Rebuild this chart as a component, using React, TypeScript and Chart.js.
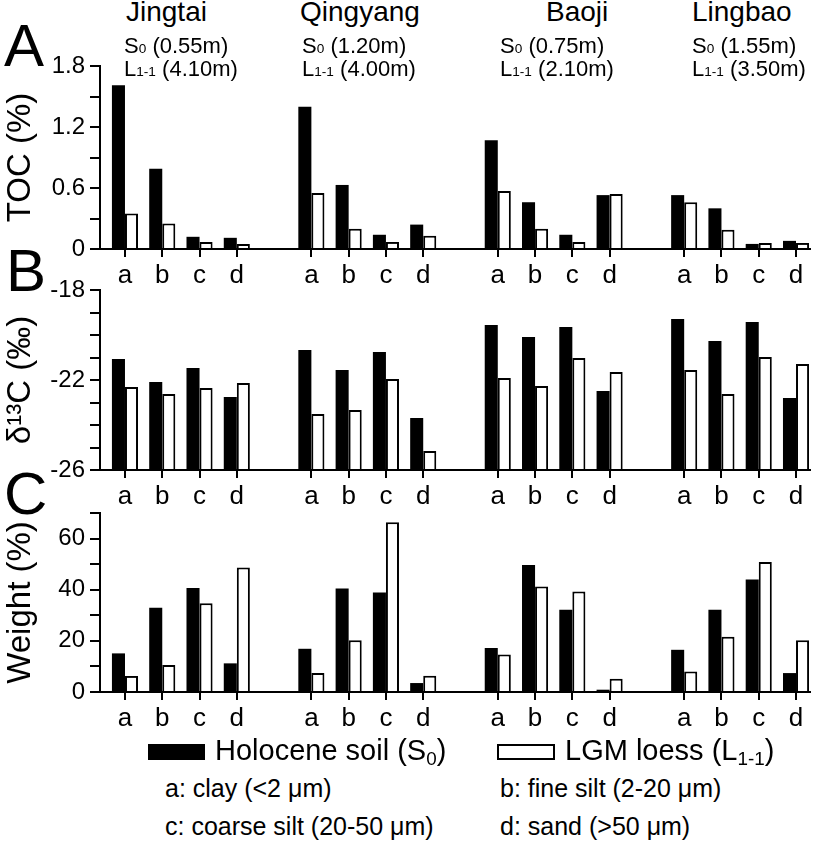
import React, { useEffect, useRef } from 'react';
import { Chart, registerables } from 'chart.js';

Chart.register(...registerables);

// ---------------- data ----------------
const SITES = ['Jingtai', 'Qingyang', 'Baoji', 'Lingbao'];
const S0_DEPTH = ['0.55m', '1.20m', '0.75m', '1.55m'];
const L11_DEPTH = ['4.10m', '4.00m', '2.10m', '3.50m'];
const FRACTIONS = ['a', 'b', 'c', 'd'];

// order: Jingtai a-d, Qingyang a-d, Baoji a-d, Lingbao a-d
const TOC_HOLOCENE = [1.61, 0.79, 0.12, 0.11, 1.4, 0.63, 0.14, 0.24, 1.07, 0.46, 0.14, 0.53, 0.53, 0.4, 0.05, 0.08];
const TOC_LGM = [0.35, 0.25, 0.07, 0.05, 0.55, 0.2, 0.07, 0.13, 0.57, 0.2, 0.07, 0.54, 0.46, 0.19, 0.06, 0.06];

const D13C_HOLOCENE = [-21.07, -22.09, -21.47, -22.76, -20.67, -21.56, -20.76, -23.69, -19.56, -20.09, -19.64, -22.49, -19.29, -20.27, -19.42, -22.8];
const D13C_LGM = [-22.31, -22.62, -22.36, -22.13, -23.51, -23.33, -21.96, -25.16, -21.91, -22.27, -21.02, -21.64, -21.56, -22.62, -20.98, -21.29];

const WEIGHT_HOLOCENE = [15.1, 32.9, 40.7, 11.2, 16.9, 40.5, 38.9, 3.5, 17.2, 49.7, 32.2, 0.9, 16.5, 32.2, 44.0, 7.4];
const WEIGHT_LGM = [6.3, 10.6, 34.7, 48.7, 7.4, 20.2, 66.4, 6.4, 14.7, 41.3, 39.3, 5.2, 8.0, 21.6, 50.8, 20.2];

const TOC_TICKS = [0, 0.3, 0.6, 0.9, 1.2, 1.5, 1.8];
const TOC_TICK_LABELS = ['0', '', '0.6', '', '1.2', '', '1.8'];
const D13C_TICKS = [-26, -25, -24, -23, -22, -21, -20, -19, -18];
const D13C_TICK_LABELS = ['-26', '', '', '', '-22', '', '', '', '-18'];
const WEIGHT_TICKS = [0, 10, 20, 30, 40, 50, 60, 70];
const WEIGHT_TICK_LABELS = ['0', '', '20', '', '40', '', '60', ''];

// ---------------- layout ----------------
const W = 814;
const FONT = '"Liberation Sans", Arial, Helvetica, sans-serif';
const SLOT_OF = (i: number) => Math.floor(i / 4) * 5 + (i % 4); // one empty slot between sites
const X_MIN = -0.67;
const X_MAX = 18.375;

type PanelProps = {
  top: number;
  height: number;
  holo: number[];
  lgm: number[];
  ticks: number[];
  tickLabels: string[];
  title: string;
  base?: number;
};

function Panel({ top, height, holo, lgm, ticks, tickLabels, title, base }: PanelProps) {
  const ref = useRef<HTMLCanvasElement | null>(null);
  useEffect(() => {
    if (!ref.current) return;
    const slots = holo.map((_, i) => SLOT_OF(i));
    const mk = (vals: number[]) => vals.map((v, i) => ({ x: slots[i], y: v }));
    const ds: any = (label: string, vals: number[], fill: string, bw: number) => ({
      label,
      data: mk(vals),
      backgroundColor: fill,
      borderColor: '#000',
      borderWidth: bw,
      categoryPercentage: 0.7,
      barPercentage: 1.0,
      ...(base !== undefined ? { base } : {}),
    });
    const chart = new Chart(ref.current, {
      type: 'bar',
      data: {
        datasets: [ds('Holocene soil (S0)', holo, '#000', 0), ds('LGM loess (L1-1)', lgm, '#fff', 2)],
      },
      options: {
        animation: false,
        responsive: false,
        maintainAspectRatio: false,
        layout: { padding: { top: 20, right: 4, left: 0, bottom: 0 } },
        plugins: { legend: { display: false }, tooltip: { enabled: false } },
        scales: {
          x: {
            type: 'linear',
            min: X_MIN,
            max: X_MAX,
            offset: false,
            z: 1,
            afterBuildTicks: (s: any) => {
              s.ticks = slots.map((v) => ({ value: v }));
            },
            afterFit: (s: any) => {
              s.height = 45;
            },
            grid: {
              offset: false,
              drawOnChartArea: false,
              drawTicks: true,
              tickLength: 8,
              color: '#000',
              lineWidth: 2,
            },
            border: { display: true, color: '#000', width: 2 },
            ticks: {
              autoSkip: false,
              maxRotation: 0,
              padding: 3,
              color: '#000',
              font: { family: FONT, size: 26 },
              callback: (_v: any, i: number) => FRACTIONS[i % 4],
            },
          },
          y: {
            type: 'linear',
            min: ticks[0],
            max: ticks[ticks.length - 1],
            afterBuildTicks: (s: any) => {
              s.ticks = ticks.map((v) => ({ value: v }));
            },
            afterFit: (s: any) => {
              s.width = 100;
            },
            grid: {
              drawOnChartArea: false,
              drawTicks: true,
              tickLength: 10,
              color: '#000',
              lineWidth: 2,
            },
            border: { display: true, color: '#000', width: 2 },
            ticks: {
              autoSkip: false,
              padding: 5,
              color: '#000',
              font: { family: FONT, size: 24 },
              callback: (_v: any, i: number) => tickLabels[i],
            },
            title: {
              display: true,
              text: title,
              color: '#000',
              font: { family: FONT, size: 33 },
              padding: { top: 1, bottom: 0 },
            },
          },
        },
      } as any,
    });
    return () => chart.destroy();
  }, []);
  return (
    <canvas
      ref={ref}
      width={W}
      height={height}
      style={{ position: 'absolute', left: 0, top, width: W, height }}
    />
  );
}

const NAME_X = [126, 300, 546, 692];
const SUB_X = [124, 302, 500, 692];

const small = { fontSize: '0.62em' } as const;
const sub = { fontSize: '0.65em', position: 'relative', top: '0.25em' } as const;

export default function App() {
  useEffect(() => {
    document.body.style.margin = '0';
  }, []);
  const abs = (left: number, top: number, size: number): React.CSSProperties => ({
    position: 'absolute',
    left,
    top,
    fontSize: size,
    lineHeight: `${size}px`,
    whiteSpace: 'nowrap',
    color: '#000',
  });
  return (
    <div
      style={{
        position: 'absolute',
        left: 0,
        top: 0,
        width: W,
        height: 850,
        background: '#fff',
        fontFamily: FONT,
        overflow: 'hidden',
      }}
    >
      <Panel top={46} height={248} holo={TOC_HOLOCENE} lgm={TOC_LGM} ticks={TOC_TICKS} tickLabels={TOC_TICK_LABELS} title="TOC (%)" />
      <Panel top={270} height={245} holo={D13C_HOLOCENE} lgm={D13C_LGM} ticks={D13C_TICKS} tickLabels={D13C_TICK_LABELS} title={'\u03B4\u00B9\u00B3C (\u2030)'} base={-26} />
      <Panel top={493} height={244} holo={WEIGHT_HOLOCENE} lgm={WEIGHT_LGM} ticks={WEIGHT_TICKS} tickLabels={WEIGHT_TICK_LABELS} title="Weight (%)" />

      {SITES.map((s, i) => (
        <React.Fragment key={s}>
          <div style={abs(NAME_X[i], -2, 28)}>{s}</div>
          <div style={abs(SUB_X[i], 35, 22)}>
            S<span style={small}>0</span> ({S0_DEPTH[i]})
          </div>
          <div style={abs(SUB_X[i], 58, 22)}>
            L<span style={small}>1-1</span> ({L11_DEPTH[i]})
          </div>
        </React.Fragment>
      ))}

      <div style={abs(4, 16, 60)}>A</div>
      <div style={abs(6, 241, 60)}>B</div>
      <div style={abs(4, 464, 60)}>C</div>

      <div style={{ position: 'absolute', left: 148, top: 744, width: 57, height: 16, background: '#000' }} />
      <div style={abs(215, 736, 29)}>
        Holocene soil (S<span style={sub}>0</span>)
      </div>
      <div style={{ position: 'absolute', left: 497, top: 744, width: 54, height: 12, background: '#fff', border: '2px solid #000' }} />
      <div style={abs(565, 736, 29)}>
        LGM loess (L<span style={sub}>1-1</span>)
      </div>
      <div style={abs(165, 776, 25)}>a: clay (&lt;2 {'\u03BC'}m)</div>
      <div style={abs(500, 776, 25)}>b: fine silt (2-20 {'\u03BC'}m)</div>
      <div style={abs(165, 814, 25)}>c: coarse silt (20-50 {'\u03BC'}m)</div>
      <div style={abs(500, 814, 25)}>d: sand (&gt;50 {'\u03BC'}m)</div>
    </div>
  );
}
